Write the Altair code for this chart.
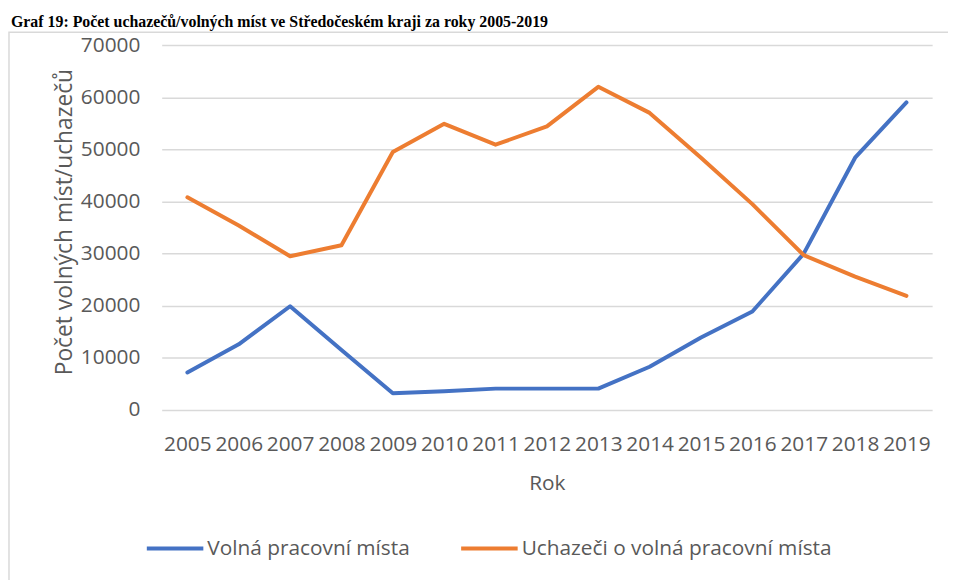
import altair as alt
import pandas as pd

years = [str(y) for y in range(2005, 2020)]
volna = [7200, 12600, 19900, 11500, 3200, 3600, 4100, 4100, 4100, 8300, 13900, 18900, 30000, 48400, 59000]
uchazeci = [40800, 35400, 29500, 31600, 49500, 54900, 50900, 54400, 62000, 57000, 48400, 39500, 29700, 25600, 21900]
series = ["Volná pracovní místa", "Uchazeči o volná pracovní místa"]
colors = ["#4472C4", "#ED7D31"]
y_ticks = [0, 10000, 20000, 30000, 40000, 50000, 60000, 70000]
title_text = "Graf 19: Počet uchazečů/volných míst ve Středočeském kraji za roky 2005-2019"

df = pd.DataFrame(
    [{"Rok": y, "Hodnota": v, "Serie": series[0]} for y, v in zip(years, volna)]
    + [{"Rok": y, "Hodnota": v, "Serie": series[1]} for y, v in zip(years, uchazeci)]
)

GREY = "#595959"
one = pd.DataFrame({"a": [0]})

frame = alt.Chart(one).mark_rect(
    fill="transparent", stroke="#d9d9d9", strokeWidth=1.5
).encode(
    x=alt.value(-154), x2=alt.value(900), y=alt.value(-13), y2=alt.value(700)
)

title = alt.Chart(one).mark_text(
    font="Liberation Serif", fontSize=16, fontWeight="bold", color="black",
    align="left", baseline="alphabetic"
).encode(x=alt.value(-152), y=alt.value(-18), text=alt.value(title_text))

lines = alt.Chart(df).mark_line(strokeWidth=4, strokeCap="round", strokeJoin="round").encode(
    x=alt.X("Rok:O", sort=years,
            scale=alt.Scale(paddingInner=0, paddingOuter=0),
            axis=alt.Axis(labelAngle=0, labelFontSize=21, labelColor=GREY, domain=False,
                          ticks=False, labelPadding=24, labelOverlap=False, labelBound=False,
                          title="Rok", titleFontSize=21, titleFontWeight="normal",
                          titleColor=GREY, titlePadding=18, grid=False)),
    y=alt.Y("Hodnota:Q", scale=alt.Scale(domain=[0, 70000], nice=False),
            axis=alt.Axis(values=y_ticks, format="d", labelFontSize=21, labelColor=GREY,
                          domain=False, ticks=False, labelPadding=22,
                          gridColor="#d9d9d9", gridWidth=1.5,
                          title="Počet volných míst/uchazečů", titleFontSize=23,
                          titleFontWeight="normal", titleColor=GREY, titlePadding=4,
                          titleY=178)),
    color=alt.Color("Serie:N", scale=alt.Scale(domain=series, range=colors),
                    legend=alt.Legend(title=None, orient="none", direction="horizontal",
                                      legendX=-17, legendY=477, symbolType="stroke",
                                      symbolSize=3249, symbolStrokeWidth=4,
                                      labelFontSize=21, labelColor=GREY, labelOffset=2,
                                      columnPadding=43, labelLimit=500)),
    order=alt.Order("Rok:O"),
)

chart = alt.layer(frame, lines, title).properties(
    width=777, height=368,
    autosize=alt.AutoSizeParams(type="none"),
    padding={"left": 155, "top": 35, "right": 16, "bottom": 169},
).configure(font="Open Sans").configure_view(stroke=None)

chart.save("out.html", embed_options={"renderer": "svg", "actions": False})
